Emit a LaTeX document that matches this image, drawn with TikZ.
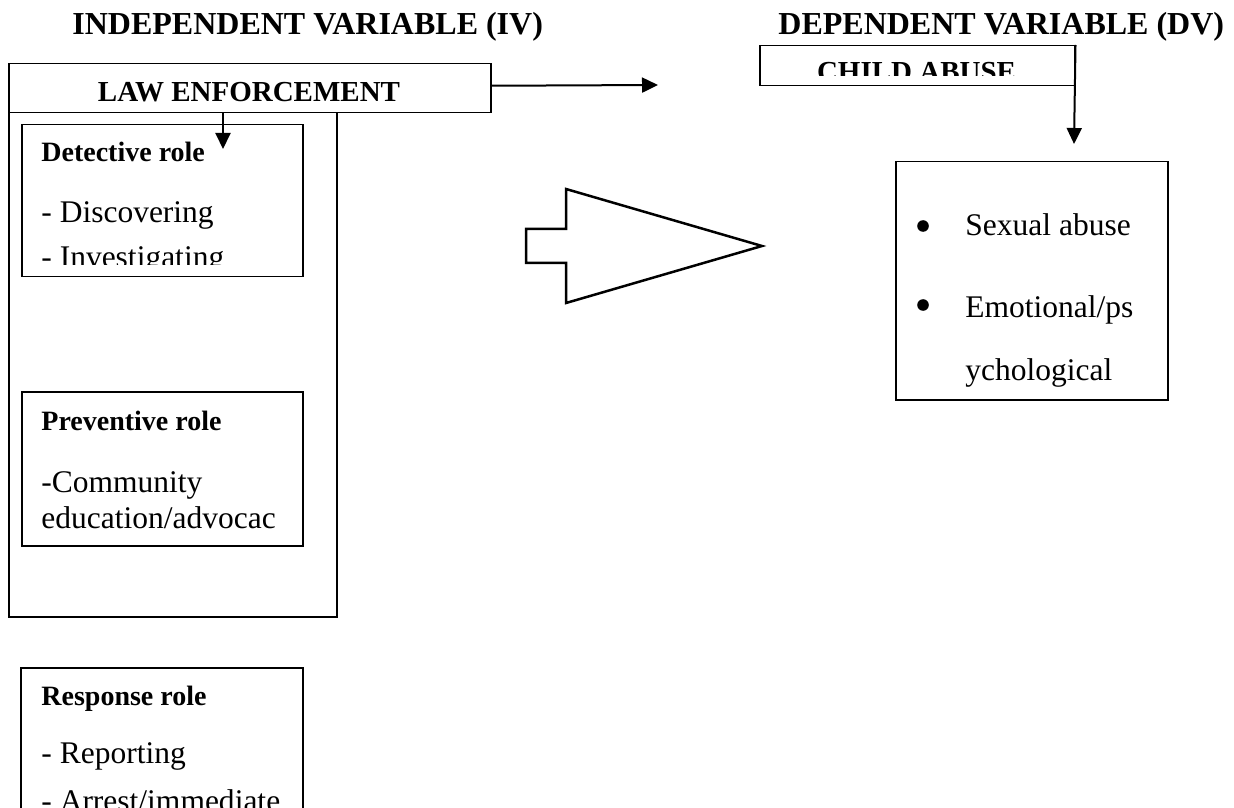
\documentclass[tikz,border=0pt]{standalone}
\usepackage{fontspec}
\setmainfont{Liberation Serif}
\usetikzlibrary{arrows.meta}
\begin{document}
\begin{tikzpicture}[x=0.5pt,y=-0.5pt,
  box/.style={draw, line width=0.75pt, inner sep=0pt, anchor=north west},
  lbl/.style={inner sep=0pt, anchor=base west},
  ttl/.style={lbl, font=\bfseries\fontsize{16pt}{19pt}\selectfont},
  hdr/.style={lbl, font=\bfseries\fontsize{14pt}{17pt}\selectfont},
  boxcaption/.style={inner sep=0pt, anchor=base, font=\bfseries\fontsize{14.5pt}{17pt}\selectfont},
  txt/.style={lbl, font=\fontsize{15.75pt}{19pt}\selectfont},
  conn/.style={line width=1pt, -{Triangle[length=8pt,width=7.5pt]}},
  bullet/.style={circle, fill=black, inner sep=0pt, minimum size=5.8pt}
]
\clip (0,0) rectangle (1234,807);
\fill[white] (0,0) rectangle (1234,807);

% titles
\node[ttl] (iv) at (72,35) {INDEPENDENT VARIABLE (IV)};
\node[ttl] (dv) at (778,35) {DEPENDENT VARIABLE (DV)};

% left column boxes
\node[box, minimum width=241pt, minimum height=24.5pt] (law) at (8,63) {};
\node[boxcaption] (lawtxt) at (249,102) {LAW ENFORCEMENT};
\node[box, minimum width=164pt, minimum height=252pt] (outer) at (8,112) {};
\node[box, minimum width=140.5pt, minimum height=76pt] (det) at (21,124) {};
\node[box, minimum width=140.5pt, minimum height=77pt] (prev) at (21,391) {};
\node[box, minimum width=141pt, minimum height=90pt] (resp) at (20,667) {};

% detective
\node[hdr] (dethead) at (41,162) {Detective role};
\node[txt] (det1) at (41,223) {- Discovering};
\begin{scope}
\clip (21,124) rectangle (302,265);
\node[txt] (det2) at (41,268) {- Investigating};
\end{scope}

% preventive
\node[hdr] (prevhead) at (41,430) {Preventive role};
\node[txt] (prev1) at (41,492) {-Community};
\node[txt] (prev2) at (41,528) {education/advocac};

% response
\node[hdr] (resphead) at (41,705) {Response role};
\node[txt] (resp1) at (41,763) {- Reporting};
\node[txt] (resp2) at (41,811) {- Arrest/immediate};

% right side
\node[box, minimum width=157.5pt, minimum height=20pt] (child) at (759,45) {};
\begin{scope}
\clip (759,45) rectangle (1074,76);
\node[boxcaption] (childtxt) at (916.5,82) {CHILD ABUSE};
\end{scope}

\node[box, minimum width=136pt, minimum height=119pt] (dvbox) at (895,161) {};
\node[bullet] (b1) at (923,226) {};
\node[bullet] (b2) at (923,305) {};
\node[txt] (dv1) at (965,236) {Sexual abuse};
\node[txt] (dv2) at (965,317) {Emotional/ps};
\node[txt] (dv3) at (965,380) {ychological};

% big arrow shape
\draw[line width=1.25pt, line join=miter]
  (526,229) -- (566,229) -- (566,189) -- (762,246) -- (566,303) -- (566,263) -- (526,263) -- cycle;

% connectors
\coordinate (lawend) at (658,85);
\draw[conn] ([yshift=1.25pt]law.east) -- (lawend);
\coordinate (dettip) at (223,149);
\draw[conn] (dettip |- law.south) -- (dettip);
\coordinate (childtip) at (1074,144);
\draw[conn] (child.north east) -- (childtip);
\end{tikzpicture}
\end{document}
